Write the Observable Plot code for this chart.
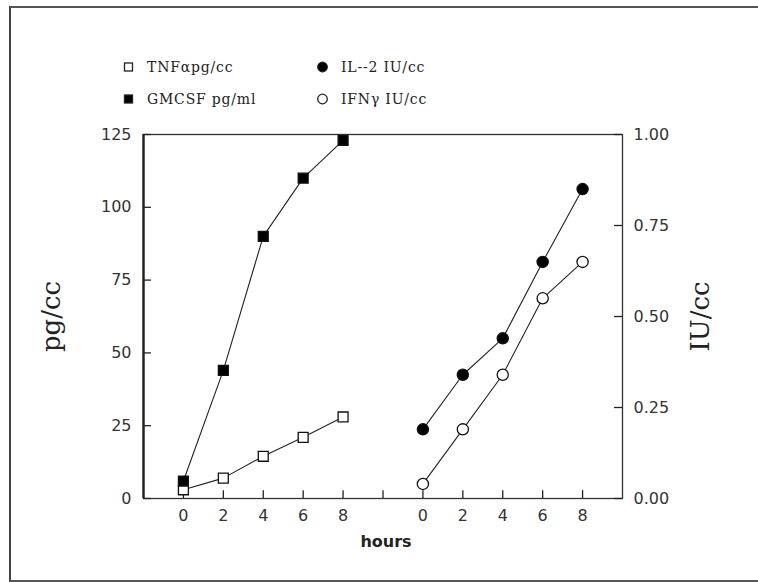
<!DOCTYPE html>
<html>
<head>
<meta charset="utf-8">
<script src="https://cdn.jsdelivr.net/npm/d3@7"></script>
<script src="https://cdn.jsdelivr.net/npm/@observablehq/plot@0.6"></script>
<style>
  html, body { margin: 0; padding: 0; background: #fff; overflow: hidden; }
  #wrap { position: relative; width: 758px; height: 582px; overflow: hidden; }
  #border { position: absolute; left: 9px; top: 6px; width: 800px; height: 572px;
            border-left: 2px solid #444; border-top: 2px solid #555; border-bottom: 2px solid #555; }
  #chart { position: absolute; left: 0; top: 0; }
  .leg { position: absolute; font-family: "DejaVu Serif", serif; font-size: 14px; color: #222;
         letter-spacing: 0.8px; line-height: 16px; white-space: nowrap; }
  .leg svg { position: absolute; }
</style>
</head>
<body>
<div id="wrap">
  <div id="border"></div>
  <div id="chart"></div>
  <div id="legend"></div>
</div>
<script>
// ---- data ----
const hours = [0, 2, 4, 6, 8];
const tnf = [3, 7, 14.5, 21, 28];          // pg/cc (left axis)
const gmcsf = [6, 44, 90, 110, 123];       // pg/ml (left axis)
const il2 = [0.19, 0.34, 0.44, 0.65, 0.85];   // IU/cc (right axis)
const ifn = [0.04, 0.19, 0.34, 0.55, 0.65];   // IU/cc (right axis)
const leftTicks = [0, 25, 50, 75, 100, 125];
const rightTicks = [0, 0.25, 0.5, 0.75, 1.0];
const xTickPos = [0, 2, 4, 6, 8, 10, 12, 14, 16, 18, 20];
const xTickLabels = ["0", "2", "4", "6", "8", "", "0", "2", "4", "6", "8"];
const seriesNames = ["TNF\u03b1pg/cc", "GMCSF pg/ml", "IL--2 IU/cc", "IFN\u03b3 IU/cc"];

// layout constants
const groupOffset = 12;      // right-hand group starts at 12 on shared x scale
const xMin = -2, xMax = 22;
const leftMax = 125, rightMax = 1.0;
const k = leftMax / rightMax;
const tickLenX = 0.4;        // inward tick length in x units (~8px)
const tickLenY = 2.7;        // inward tick length in y units (~8px)

const rows = [];
hours.forEach((h, i) => {
  rows.push({series: seriesNames[0], x: h, y: tnf[i], fill: "white", sym: "square"});
  rows.push({series: seriesNames[1], x: h, y: gmcsf[i], fill: "black", sym: "square"});
  rows.push({series: seriesNames[2], x: h + groupOffset, y: il2[i] * k, fill: "black", sym: "circle"});
  rows.push({series: seriesNames[3], x: h + groupOffset, y: ifn[i] * k, fill: "white", sym: "circle"});
});
const squares = rows.filter(d => d.sym === "square");
const circles = rows.filter(d => d.sym === "circle");
const rightTickY = rightTicks.map(v => v * k);

const chart = Plot.plot({
  width: 758,
  height: 582,
  marginLeft: 143,
  marginRight: 136,
  marginTop: 134,
  marginBottom: 84,
  style: {fontFamily: "DejaVu Sans, sans-serif", background: "transparent", color: "#333"},
  x: {domain: [xMin, xMax]},
  y: {domain: [0, leftMax]},
  marks: [
    Plot.frame({stroke: "#333", strokeWidth: 1.3}),
    Plot.ruleX([xMin], {stroke: "#222", strokeWidth: 2.4}),
    // inward ticks
    Plot.ruleY(leftTicks, {y: d => d, x1: xMin, x2: xMin + tickLenX, stroke: "#222", strokeWidth: 1.3}),
    Plot.ruleY(rightTickY, {y: d => d, x1: xMax - tickLenX, x2: xMax, stroke: "#222", strokeWidth: 1.3}),
    Plot.ruleX(xTickPos, {x: d => d, y1: 0, y2: tickLenY, stroke: "#222", strokeWidth: 1.3}),
    // tick labels
    Plot.axisY({anchor: "left", ticks: leftTicks, tickSize: 0, tickPadding: 12, label: null,
                fontSize: 16, letterSpacing: "2.5px", fill: "#333", tickFormat: d => String(d)}),
    Plot.axisY({anchor: "right", ticks: rightTickY, tickSize: 0, tickPadding: 11, label: null,
                fontSize: 16, letterSpacing: "2.8px", fill: "#333", tickFormat: d => (d / k).toFixed(2)}),
    Plot.axisX({anchor: "bottom", ticks: xTickPos, tickSize: 0, tickPadding: 11, label: null,
                fontSize: 16, fill: "#333", tickFormat: d => xTickLabels[xTickPos.indexOf(d)]}),
    // data
    Plot.line(rows, {x: "x", y: "y", z: "series", stroke: "#222", strokeWidth: 1.1}),
    Plot.dot(squares, {x: "x", y: "y", symbol: "square", r: 5.6, fill: "fill", stroke: "#111", strokeWidth: 1.3}),
    Plot.dot(circles, {x: "x", y: "y", symbol: "circle", r: 5.6, fill: "fill", stroke: "#111", strokeWidth: 1.3}),
    // axis titles
    Plot.text(["pg/cc"], {frameAnchor: "left", textAnchor: "middle", dx: -92, rotate: -90, fontSize: 26,
                          fontFamily: "DejaVu Serif, serif", fill: "#222"}),
    Plot.text(["IU/cc"], {frameAnchor: "right", textAnchor: "middle", dx: 78, rotate: -90, fontSize: 26,
                          fontFamily: "DejaVu Serif, serif", fill: "#222"}),
    Plot.text(["hours"], {frameAnchor: "bottom", textAnchor: "middle", dy: 48, dx: 3, fontSize: 16, fontWeight: "bold",
                          letterSpacing: "5px", fill: "#222"})
  ]
});
chart.style.display = "block";
document.getElementById("chart").appendChild(chart);

// ---- legend (HTML) ----
const legendItems = [
  {name: seriesNames[0], sym: "square", fill: "white", left: 122, top: 59},
  {name: seriesNames[1], sym: "square", fill: "black", left: 122, top: 91},
  {name: seriesNames[2], sym: "circle", fill: "black", left: 316, top: 59},
  {name: seriesNames[3], sym: "circle", fill: "white", left: 316, top: 91}
];
const leg = document.getElementById("legend");
legendItems.forEach(it => {
  const d = document.createElement("div");
  d.className = "leg";
  d.style.left = it.left + "px";
  d.style.top = it.top + "px";
  const shape = it.sym === "square"
    ? `<rect x="2.5" y="3" width="8" height="8" fill="${it.fill}" stroke="#222" stroke-width="1.3"/>`
    : `<circle cx="6.5" cy="7" r="4.8" fill="${it.fill}" stroke="#222" stroke-width="1.3"/>`;
  d.innerHTML = `<svg width="14" height="14" style="left:0;top:1px">${shape}</svg><span style="margin-left:25px">${it.name}</span>`;
  leg.appendChild(d);
});
</script>
</body>
</html>
